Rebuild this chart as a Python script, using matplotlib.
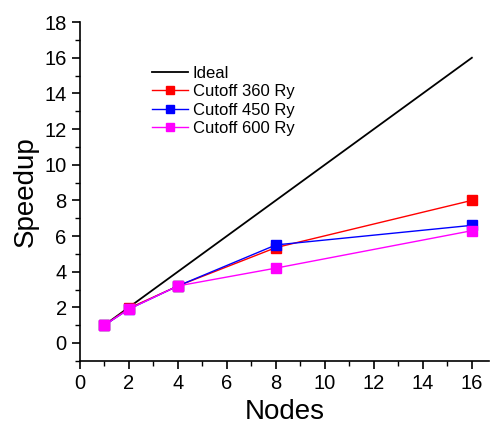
import matplotlib
matplotlib.use('Agg')
import matplotlib.pyplot as plt
from matplotlib.ticker import MultipleLocator

plt.rcParams['font.family'] = ['Liberation Sans', 'DejaVu Sans']

nodes = [1, 2, 4, 8, 16]
ideal = [1, 2, 4, 8, 16]
cut360 = [1, 1.95, 3.2, 5.35, 8.0]
cut450 = [1, 1.9, 3.2, 5.5, 6.6]
cut600 = [1, 1.9, 3.2, 4.2, 6.3]

fig = plt.figure(figsize=(4.9, 4.25), dpi=100)
ax = fig.add_axes([0.163, 0.151, 0.835, 0.797])

ax.plot(nodes, ideal, color='black', lw=1.3, label='Ideal')
ax.plot(nodes, cut360, color='red', lw=1, marker='s', ms=7, label='Cutoff 360 Ry')
ax.plot(nodes, cut450, color='blue', lw=1, marker='s', ms=7, label='Cutoff 450 Ry')
ax.plot(nodes, cut600, color='magenta', lw=1, marker='s', ms=7, label='Cutoff 600 Ry')

ax.set_xlim(0, 16.7)
ax.set_ylim(-1, 18)
ax.xaxis.set_major_locator(MultipleLocator(2))
ax.xaxis.set_minor_locator(MultipleLocator(1))
ax.yaxis.set_major_locator(MultipleLocator(2))
ax.yaxis.set_minor_locator(MultipleLocator(1))
ax.tick_params(which='major', direction='out', length=6, width=1.2, labelsize=14.5)
ax.tick_params(which='minor', direction='out', length=3.5, width=1)

ax.spines['top'].set_visible(False)
ax.spines['right'].set_visible(False)
ax.spines['left'].set_linewidth(1.2)
ax.spines['bottom'].set_linewidth(1.2)

ax.set_xlabel('Nodes', fontsize=20)
ax.set_ylabel('Speedup', fontsize=20)

ax.legend(loc='upper left', bbox_to_anchor=(0.14, 0.915), frameon=False,
          fontsize=12, handlelength=2.15, labelspacing=0.2, handletextpad=0.3,
          markerscale=0.8)

fig.savefig('out.png')
